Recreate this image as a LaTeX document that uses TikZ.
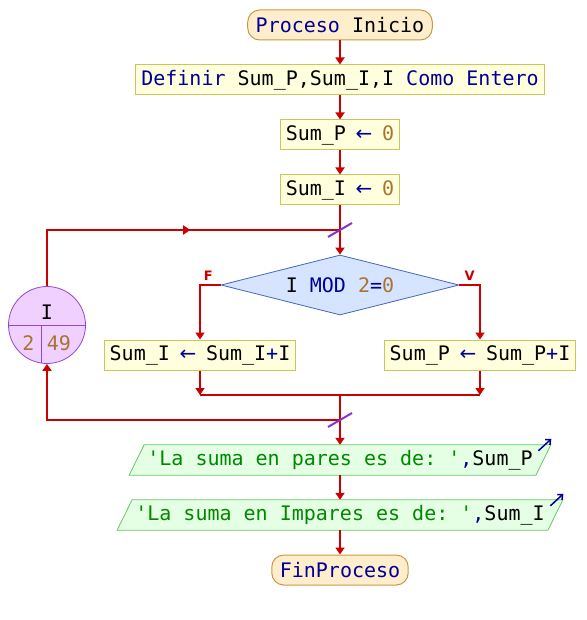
\documentclass[tikz,border=0pt]{standalone}
\usepackage{fontspec}
\setmonofont{DejaVu Sans Mono}
\setsansfont{DejaVu Sans}
\newfontfamily\arrowfont{DejaVu Sans}
\usepackage{xcolor}
\usetikzlibrary{shapes.geometric, arrows.meta, calc, decorations.markings, backgrounds}

\definecolor{flowred}{RGB}{204,0,0}
\definecolor{boxfill}{RGB}{255,255,221}
\definecolor{boxline}{RGB}{200,200,90}
\definecolor{termfill}{RGB}{255,238,204}
\definecolor{termline}{RGB}{204,150,70}
\definecolor{condfill}{RGB}{214,228,255}
\definecolor{condline}{RGB}{70,100,190}
\definecolor{outfill}{RGB}{228,255,228}
\definecolor{outline}{RGB}{100,200,100}
\definecolor{cntfill}{RGB}{240,208,255}
\definecolor{cntline}{RGB}{150,70,200}
\definecolor{cutpurple}{RGB}{136,51,204}
\definecolor{kwblue}{RGB}{0,0,150}
\definecolor{numbrown}{RGB}{168,116,50}
\definecolor{strgreen}{RGB}{0,136,0}

\newcommand{\kw}[1]{\textcolor{kwblue}{#1}}
\newcommand{\nm}[1]{\textcolor{numbrown}{#1}}
\newcommand{\st}[1]{\textcolor{strgreen}{#1}}
\newcommand{\asig}{\makebox[0.602em]{\arrowfont\textcolor{kwblue}{←}}}

\begin{document}
\begin{tikzpicture}[
    x=1pt, y=-1pt,
    font=\ttfamily\fontsize{20}{22}\selectfont,
    proc/.style={draw=boxline, fill=boxfill, line width=1pt, minimum height=30pt, inner xsep=5.5pt, inner ysep=0pt},
    term/.style={draw=termline, fill=termfill, line width=1pt, rounded corners=12pt, minimum height=30pt, inner xsep=8pt, inner ysep=0pt},
    cond/.style={diamond, aspect=4, draw=condline, fill=condfill, line width=0.8pt, minimum width=238pt, minimum height=60pt, inner sep=0pt},
    outp/.style={minimum height=30pt, inner xsep=10.5pt, inner ysep=0pt},
    outshape/.style={draw=outline, fill=outfill, line width=0.8pt},
    cnt/.style={circle, draw=cntline, fill=cntfill, line width=0.8pt, minimum size=77pt, inner sep=0pt},
    flow/.style={draw=flowred, line width=1.8pt},
    arrow/.style={flow, -{Triangle[width=9pt,length=7pt]}},
    cut/.style={draw=cutpurple, line width=2pt},
    outmark/.style={draw=kwblue, line width=1.5pt, -{Straight Barb[width=7pt,length=4pt]}},
    lbl/.style={font=\sffamily\bfseries\fontsize{13}{15}\selectfont, text=flowred}
]
    \useasboundingbox (0,0) rectangle (586,620);

    % Start and declarations
    \node[term] (ini) at (340,25) {\kw{Proceso} Inicio};
    \node[proc] (def) at (340,80) {\kw{Definir} Sum\_P,Sum\_I,I \kw{Como Entero}};
    \node[proc] (sp) at (340,135) {Sum\_P \asig{} \nm{0}};
    \node[proc] (si) at (340,190) {Sum\_I \asig{} \nm{0}};

    % Loop body
    \node[cond] (if) at (340,285) {I \kw{MOD} \nm{2}\kw{=}\nm{0}};
    \node[proc] (ai) at (200,355) {Sum\_I \asig{} Sum\_I\kw{+}I};
    \node[proc] (ap) at (480,355) {Sum\_P \asig{} Sum\_P\kw{+}I};

    % Loop counter
    \node[cnt] (for) at (47,325) {};
    \node (var) at (47,312) {I};
    \node (desde) at (28.5,343) {\nm{2}};
    \node (hasta) at (59,343) {\nm{49}};
    \draw[cntline, line width=0.8pt] (for.west) -- (for.east);
    \draw[cntline, line width=0.8pt] ($(for.center)+(-6,0)$) -- ($(for.center)+(-6,37.5)$);

    % Output and end
    \node[outp] (o1) at (340,460) {\st{'La suma en pares es de: '}\kw{,}Sum\_P};
    \node[outp] (o2) at (340,515) {\st{'La suma en Impares es de: '}\kw{,}Sum\_I};
    \node[term] (fin) at (340,570) {\kw{FinProceso}};
    \begin{scope}[on background layer]
        \foreach \o in {o1, o2} {
            \draw[outshape] ($(\o.south west)+(-7.5,0)$) -- ($(\o.north west)+(7.5,0)$)
                -- ($(\o.north east)+(7.5,0)$) -- ($(\o.south east)+(-7.5,0)$) -- cycle;
        }
    \end{scope}

    \coordinate (top) at (340,230);
    \coordinate (join) at (340,395);
    \coordinate (back) at (340,420);

    % Connectors
    \draw[arrow] (ini) -- (def);
    \draw[arrow] (def) -- (sp);
    \draw[arrow] (sp) -- (si);
    \draw[arrow] (si) -- (if);
    \draw[flow, postaction={decorate, decoration={markings,
        mark=at position 0.571 with {\arrow{Triangle[width=9pt,length=7pt]}}}}]
        (for.north) |- (top);
    \draw[arrow] (if.west) -| node[lbl, pos=0.3, above] {F} (ai.north);
    \draw[arrow] (if.east) -| node[lbl, pos=0.25, above] {V} (ap.north);
    \draw[arrow] (ai.south) -- (ai.south |- join);
    \draw[arrow] (ap.south) -- (ap.south |- join);
    \draw[flow] (ai.south |- join) -- (ap.south |- join);
    \draw[arrow] (join) -- (o1);
    \draw[arrow] (back) -| (for.south);
    \draw[arrow] (o1) -- (o2);
    \draw[arrow] (o2) -- (fin);

    % Cut marks and output marks
    \draw[cut] ($(top)+(-12,7)$) -- ($(top)+(12,-7)$);
    \draw[cut] ($(back)+(-12,7)$) -- ($(back)+(12,-7)$);
    \draw[outmark] ($(o1.north east)+(-5,6)$) -- ($(o1.north east)+(8,-6)$);
    \draw[outmark] ($(o2.north east)+(-5,6)$) -- ($(o2.north east)+(8,-6)$);
\end{tikzpicture}
\end{document}
